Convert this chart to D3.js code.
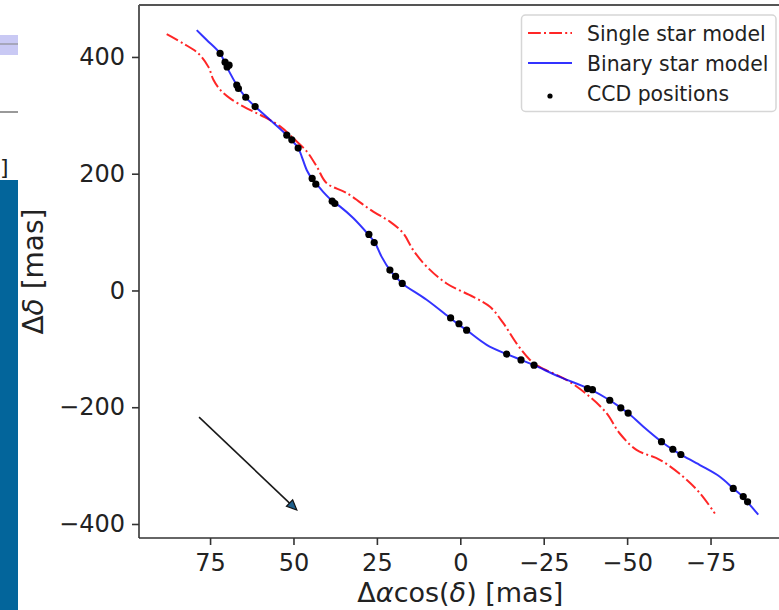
<!DOCTYPE html>
<html>
<head>
<meta charset="utf-8">
<script src="https://cdn.jsdelivr.net/npm/d3@7"></script>
<style>
  body { margin: 0; background: #fff; }
  svg { display: block; font-family: "DejaVu Sans", sans-serif; }
</style>
</head>
<body>
<script>
// Data (mas)
var singleX = [88.0, 83.0, 78.5, 75.5, 74.0, 72.0, 69.0, 64.0, 59.0, 54.0, 50.1, 46.0, 43.0, 40.1, 34.1, 26.1, 21.1, 17.1, 14.1, 10.1, 4.1, -3.9, -8.9, -12.9, -16.9, -20.9, -23.8, -31.8, -38.8, -43.8, -47.8, -52.8, -59.8, -66.8, -71.8, -76.3];
var singleY = [439, 423, 406, 383, 361, 344, 329, 312, 298, 281, 261, 238, 212, 184, 167, 135, 118, 98, 69, 41, 12, -11, -28, -56, -91, -119, -131, -153, -182, -210, -245, -273, -290, -319, -347, -382];

var binaryX = [79.0, 76.0, 72.0, 70.0, 67.0, 64.5, 61.5, 57.0, 52.0, 48.6, 47.5, 46.0, 44.5, 43.3, 41.1, 38.1, 36.1, 32.1, 27.6, 25.6, 23.6, 21.1, 19.4, 17.4, 10.1, 3.1, 0.6, -1.9, -7.9, -13.9, -18.3, -22.1, -29.8, -38.8, -44.8, -48.1, -50.3, -54.8, -60.3, -63.8, -66.1, -71.8, -77.8, -81.8, -84.8, -86.0, -89.3];
var binaryY = [446, 429, 406, 383, 352, 332, 315, 292, 266, 244, 229, 206, 192, 184, 169, 152, 144, 124, 96, 82, 58, 35, 24, 12, -16, -47, -58, -68, -93, -109, -119, -128, -148, -169, -188, -201, -210, -233, -259, -273, -281, -299, -319, -339, -354, -362, -384];

var ccdX = [72.0, 70.5, 69.9, 69.3, 67.0, 66.5, 64.3, 61.5, 52.0, 50.5, 48.6, 44.4, 43.3, 38.4, 37.6, 27.4, 25.8, 21.1, 19.4, 17.4, 2.9, 0.4, -1.9, -13.9, -18.2, -22.1, -38.1, -39.6, -44.8, -48.1, -50.3, -60.3, -63.7, -66.1, -81.8, -84.8, -86.1];
var ccdY = [406, 391, 383, 386, 352, 346, 331, 315, 266, 258, 244, 192, 182, 153, 149, 96, 82, 35, 24, 12, -47, -57, -68, -109, -119, -128, -168, -170, -188, -201, -210, -259, -272, -281, -339, -353, -362];

// proper motion arrow, start and end
var arrowX = [78.3, 49.0];
var arrowY = [-217, -376];

var xTicks = [75, 50, 25, 0, -25, -50, -75];
var yTicks = [400, 200, 0, -200, -400];
var legendLabels = ["Single star model", "Binary star model", "CCD positions"];

var svgWidth = 779;
var svgHeight = 610;

var plot = { left: 139, right: 781.6, top: 5, bottom: 538 };

var svg = d3.select("body").append("svg")
  .attr("width", svgWidth)
  .attr("height", svgHeight);

// bits of the neighbouring figure at the left edge
svg.append("rect").attr("x", 0).attr("y", 35).attr("width", 18).attr("height", 20).attr("fill", "#c9c9f4");
svg.append("line").attr("x1", 0).attr("x2", 18).attr("y1", 44).attr("y2", 44).attr("stroke", "#9a9aa8").attr("stroke-width", 1.5);
svg.append("line").attr("x1", 0).attr("x2", 18).attr("y1", 112).attr("y2", 112).attr("stroke", "#777").attr("stroke-width", 1.5);
svg.append("text").attr("x", 0).attr("y", 175).attr("font-size", 22).attr("fill", "#222").text("]");
svg.append("rect").attr("x", 0).attr("y", 180).attr("width", 18).attr("height", 430).attr("fill", "#03659b");

var x = d3.scaleLinear().domain([96.3, -96.3]).range([plot.left, plot.right]);
var y = d3.scaleLinear().domain([489, -424]).range([plot.top, plot.bottom]);

// axes
var xAxis = d3.axisBottom(x).tickValues(xTicks).tickSize(7).tickPadding(9).tickFormat(d3.format("d"));
var yAxis = d3.axisLeft(y).tickValues(yTicks).tickSize(7).tickPadding(7).tickFormat(d3.format("d"));

var gx = svg.append("g")
  .attr("transform", "translate(0," + plot.bottom + ")")
  .call(xAxis);
var gy = svg.append("g")
  .attr("transform", "translate(" + plot.left + ",0)")
  .call(yAxis);

[gx, gy].forEach(function(g) {
  g.select(".domain").remove();
  g.selectAll(".tick line").attr("stroke", "#333").attr("stroke-width", 1.6);
  g.selectAll(".tick text").attr("font-size", 24).attr("fill", "#222").attr("font-family", "DejaVu Sans");
});

// spines (left, top, bottom)
svg.append("line").attr("x1", plot.left).attr("x2", plot.left).attr("y1", plot.top).attr("y2", plot.bottom)
  .attr("stroke", "#333").attr("stroke-width", 1.6);
svg.append("line").attr("x1", plot.left).attr("x2", plot.right).attr("y1", plot.top).attr("y2", plot.top)
  .attr("stroke", "#555").attr("stroke-width", 1.8);
svg.append("line").attr("x1", plot.left).attr("x2", plot.right).attr("y1", plot.bottom).attr("y2", plot.bottom)
  .attr("stroke", "#333").attr("stroke-width", 1.6);

// axis labels
var xl = svg.append("text")
  .attr("x", (plot.left + plot.right) / 2)
  .attr("y", 602)
  .attr("text-anchor", "middle")
  .attr("font-size", 27)
  .attr("fill", "#222");
xl.append("tspan").text("Δ");
xl.append("tspan").attr("font-style", "italic").text("α");
xl.append("tspan").text("cos(");
xl.append("tspan").attr("font-style", "italic").text("δ");
xl.append("tspan").text(") [mas]");

var yl = svg.append("text")
  .attr("transform", "translate(43," + ((plot.top + plot.bottom) / 2) + ") rotate(-90)")
  .attr("text-anchor", "middle")
  .attr("font-size", 28)
  .attr("fill", "#222");
yl.append("tspan").text("Δ");
yl.append("tspan").attr("font-style", "italic").text("δ");
yl.append("tspan").text(" [mas]");

// model curves
var singleData = singleX.map(function(d, i) { return [d, singleY[i]]; });
var binaryData = binaryX.map(function(d, i) { return [d, binaryY[i]]; });
var ccdData = ccdX.map(function(d, i) { return [d, ccdY[i]]; });

var line = d3.line()
  .x(function(d) { return x(d[0]); })
  .y(function(d) { return y(d[1]); })
  .curve(d3.curveCatmullRom.alpha(0.5));

svg.append("path")
  .datum(singleData)
  .attr("d", line)
  .attr("fill", "none")
  .attr("stroke", "#ff0000")
  .attr("stroke-opacity", 0.85)
  .attr("stroke-width", 2)
  .attr("stroke-dasharray", "12.8,3.2,2,3.2");

svg.append("path")
  .datum(binaryData)
  .attr("d", line)
  .attr("fill", "none")
  .attr("stroke", "#0000ff")
  .attr("stroke-opacity", 0.8)
  .attr("stroke-width", 2);

// CCD positions
svg.selectAll("circle.ccd")
  .data(ccdData)
  .enter()
  .append("circle")
  .attr("class", "ccd")
  .attr("cx", function(d) { return x(d[0]); })
  .attr("cy", function(d) { return y(d[1]); })
  .attr("r", 3.6)
  .attr("fill", "#000");

// arrow
var ax0 = x(arrowX[0]), ay0 = y(arrowY[0]), ax1 = x(arrowX[1]), ay1 = y(arrowY[1]);
var ang = Math.atan2(ay1 - ay0, ax1 - ax0);
var headLen = 10, headW = 4.5;
var bx = ax1 - headLen * Math.cos(ang), by = ay1 - headLen * Math.sin(ang);
svg.append("line")
  .attr("x1", ax0).attr("y1", ay0).attr("x2", bx).attr("y2", by)
  .attr("stroke", "#1a1a1a").attr("stroke-width", 1.6);
svg.append("polygon")
  .attr("points", [
    [ax1, ay1],
    [bx + headW * Math.sin(ang), by - headW * Math.cos(ang)],
    [bx - headW * Math.sin(ang), by + headW * Math.cos(ang)]
  ].map(function(p) { return p.join(","); }).join(" "))
  .attr("fill", "#1f5f8b")
  .attr("stroke", "#111")
  .attr("stroke-width", 1.2);

// legend
var legend = svg.append("g");
legend.append("rect")
  .attr("x", 521.5).attr("y", 15)
  .attr("width", 254.5).attr("height", 96.5)
  .attr("rx", 4)
  .attr("fill", "#fff").attr("fill-opacity", 0.8)
  .attr("stroke", "#d6d6d6").attr("stroke-width", 1.5);

var rowY = [33, 63, 93];
legend.append("line")
  .attr("x1", 528).attr("x2", 572).attr("y1", rowY[0]).attr("y2", rowY[0])
  .attr("stroke", "#ff0000").attr("stroke-opacity", 0.85).attr("stroke-width", 2)
  .attr("stroke-dasharray", "12.8,3.2,2,3.2");
legend.append("line")
  .attr("x1", 528).attr("x2", 572).attr("y1", rowY[1]).attr("y2", rowY[1])
  .attr("stroke", "#0000ff").attr("stroke-opacity", 0.8).attr("stroke-width", 2);
legend.append("circle")
  .attr("cx", 550).attr("cy", rowY[2] + 3).attr("r", 2.6).attr("fill", "#000");

legend.selectAll("text.lab")
  .data(legendLabels)
  .enter()
  .append("text")
  .attr("class", "lab")
  .attr("x", 587)
  .attr("y", function(d, i) { return rowY[i] + 7.5; })
  .attr("font-size", 20.4)
  .attr("fill", "#222")
  .text(function(d) { return d; });
</script>
</body>
</html>
